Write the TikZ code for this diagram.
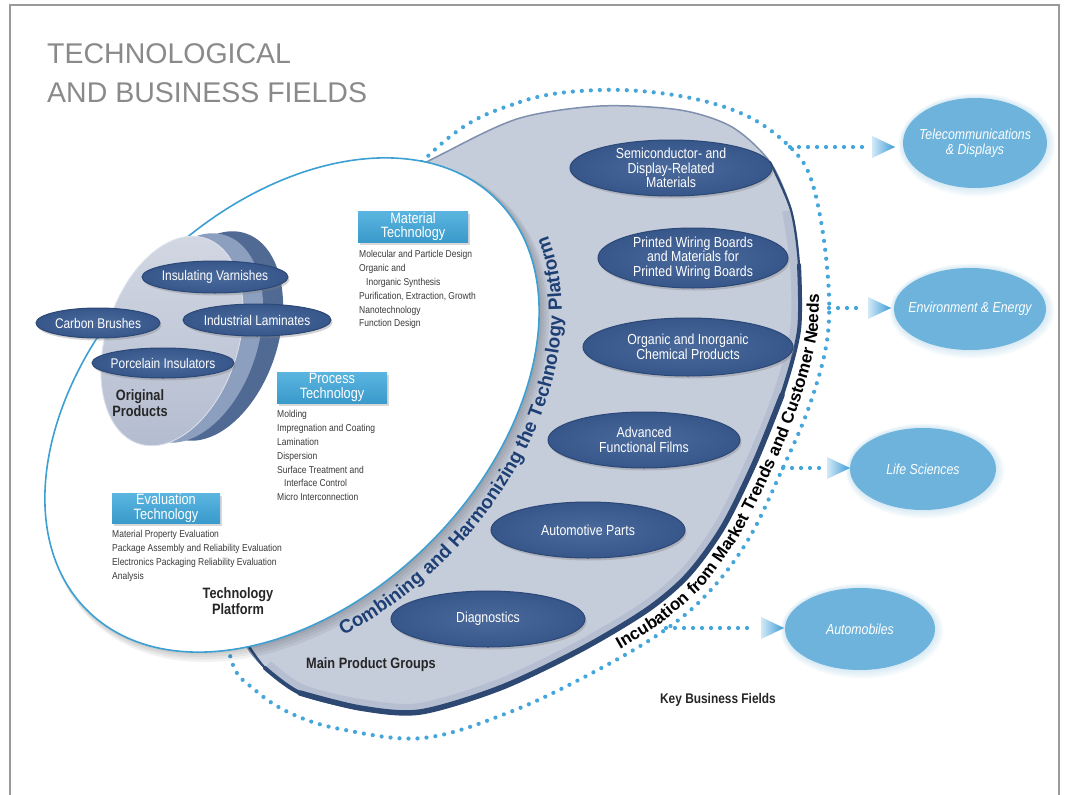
\documentclass[tikz,border=0pt]{standalone}
\usepackage{fontspec}
\setmainfont{Liberation Sans}
\newfontfamily\cf[FakeStretch=0.85]{Liberation Sans}
\usetikzlibrary{shapes.geometric,decorations.text,shadows}

\definecolor{framegray}{HTML}{9A9A9A}
\definecolor{titlegray}{HTML}{8A8A8A}
\definecolor{dotblue}{HTML}{45A6DC}
\definecolor{crescent}{HTML}{C5CCDA}
\definecolor{crescentdark}{HTML}{A9B4C9}
\definecolor{rimnavy}{HTML}{2D4873}
\definecolor{rimlight}{HTML}{7F90AE}
\definecolor{platline}{HTML}{3CA0D3}
\definecolor{prodblue}{HTML}{37568A}
\definecolor{prodlight}{HTML}{4A6A9C}
\definecolor{prodedge}{HTML}{2B4877}
\definecolor{boxtop}{HTML}{5BB5E0}
\definecolor{boxbot}{HTML}{3A9ACB}
\definecolor{keyblue}{HTML}{6DB3DC}
\definecolor{listgray}{HTML}{3A3A3A}
\definecolor{combnavy}{HTML}{1E3F73}
\definecolor{discfronttop}{HTML}{D3D8E3}
\definecolor{discfrontbot}{HTML}{B4BDD0}
\definecolor{discmid}{HTML}{8D9FBE}
\definecolor{discback}{HTML}{506A93}
\definecolor{tiplight}{HTML}{D2E9F7}
\definecolor{tipdark}{HTML}{3D9BD7}

\newcommand\combfont{\fontsize{19}{19}\selectfont\bfseries}
\newcommand\incfont{\fontsize{17}{17}\selectfont\bfseries}

% outline of the main product groups region
\newcommand\groupoutline{(450,-150) (520,-118) (600,-106) (680,-110) (732,-127) (770,-162)
  (791,-210) (799,-265) (799,-330) (782,-395) (755,-462) (723,-527) (688,-575) (647,-610)
  (580,-650) (500,-688) (420,-712) (360,-708) (300,-693) (265,-668) (243,-637) (230,-560)
  (260,-400) (330,-250) (390,-185)}

\tikzset{
  dots/.style={draw=dotblue, line width=4.2pt, line cap=round, dash pattern=on 0pt off 9pt},
  prodshape/.style={ellipse, inner sep=0, draw=prodedge, line width=1pt,
    inner color=prodlight, outer color=prodblue,
    drop shadow={opacity=0.35, shadow xshift=1.5pt, shadow yshift=-2.5pt}},
  prodtext/.style={text=white, align=center, inner sep=0, font=\cf\fontsize{14.5}{14.5}\selectfont},
  origtext/.style={text=white, align=center, inner sep=0, font=\cf\fontsize{14}{14}\selectfont},
  keyshape/.style={ellipse, inner sep=0, fill=keyblue},
  keytext/.style={text=white, align=center, inner sep=0, font=\cf\itshape\fontsize{14.5}{15}\selectfont},
  techbox/.style={rectangle, inner sep=0, top color=boxtop, bottom color=boxbot, text=white,
    align=center, font=\cf\fontsize{15}{14.5}\selectfont,
    drop shadow={opacity=0.3, shadow xshift=2pt, shadow yshift=-2.5pt}},
  techlist/.style={anchor=north west, inner sep=0, align=left, text=listgray,
    font=\cf\fontsize{10}{13.8}\selectfont},
  boldlabel/.style={inner sep=0, align=center, text=black!85, font=\cf\bfseries\fontsize{15}{16.5}\selectfont},
  tipnode/.style={isosceles triangle, isosceles triangle apex angle=75, isosceles triangle stretches,
    minimum width=22pt, minimum height=23pt, inner sep=0, left color=tiplight, right color=tipdark},
  titletext/.style={anchor=base west, inner sep=0, text=titlegray, font=\fontsize{28.5}{28.5}\selectfont},
}

\begin{document}
\begin{tikzpicture}[x=1pt,y=1pt,
  declare function={ex(\ctr,\rx,\ry,\ang)=\ctr+0.7071*(\rx*cos(\ang)-\ry*sin(\ang));
                    ey(\ctr,\rx,\ry,\ang)=\ctr+0.7071*(\rx*cos(\ang)+\ry*sin(\ang));}]

\useasboundingbox (0,0) rectangle (1066,-795);
\fill[white] (0,0) rectangle (1066,-795);

% frame, open at the bottom
\draw[framegray, line width=2.6pt] (10,-795) -- (10,-5) -- (1059,-5) -- (1059,-795);

% heading
\node[titletext] (title1) at (47,-63) {TECHNOLOGICAL};
\node[titletext] (title2) at (47,-102) {AND BUSINESS FIELDS};

% dotted incubation ring (its left part runs behind the platform)
\draw[dots] plot[smooth cycle, tension=0.6] coordinates {
  (440,-145) (520,-102) (600,-90) (680,-96) (745,-115) (790,-147) (812,-182)
  (826,-257) (828,-333) (810,-404) (781,-472) (748,-540) (708,-593) (662,-632)
  (592,-673) (510,-712) (423,-738) (340,-729) (290,-713) (255,-690) (232,-662)
  (225,-590) (260,-420) (330,-270)};

% main product groups region
\fill[crescent] plot[smooth cycle] coordinates {\groupoutline};
\begin{scope}
  \clip plot[smooth cycle] coordinates {\groupoutline};
  \draw[crescentdark, line width=18pt, opacity=0.5] plot[smooth] coordinates {
    (265,-668) (300,-693) (360,-708) (420,-712) (500,-688) (580,-650) (647,-610) (688,-575)
    (723,-527) (755,-462) (782,-395) (799,-330) (799,-265) (791,-210)};
\end{scope}
\draw[rimlight, line width=1.5pt] plot[smooth cycle] coordinates {\groupoutline};
\draw[rimnavy, line width=2.2pt, line cap=round] plot[smooth] coordinates {
  (243,-637) (265,-668) (300,-693) (360,-708) (420,-712) (500,-688) (580,-650) (647,-610)
  (688,-575) (723,-527) (755,-462) (782,-395) (799,-330) (799,-265) (791,-210) (770,-162)};
\draw[rimnavy, line width=4pt, line cap=round] plot[smooth] coordinates {
  (265,-668) (300,-693) (360,-708) (420,-712) (500,-688) (580,-650) (647,-610) (688,-575)
  (723,-527) (755,-462) (782,-395) (799,-330) (799,-265)};
\draw[rimnavy, line width=5.5pt, line cap=round] plot[smooth] coordinates {
  (300,-693) (360,-708) (420,-712) (500,-688) (580,-650) (647,-610) (688,-575)
  (723,-527) (755,-462) (782,-395)};

% incubation caption just outside the rim
\path[decorate, decoration={text along path, text color=black, text align=center,
    text={|\incfont|Incubation from Market Trends and Customer Needs}}]
  (589,-667) -- (624,-647) -- (658,-626) -- (681,-607) -- (702,-588) -- (721,-563)
  -- (739,-537) -- (756,-504) -- (772,-470) -- (787,-436) -- (800,-401) -- (810,-367)
  -- (818,-332) -- (819,-295) -- (817,-258);

% technology platform: soft shadow, white body, blue outline
\foreach \k in {1,...,4}
  \fill[black, opacity=0.05, rotate around={45:(292+1.5*\k,-405-1.5*\k)}]
    (292+1.5*\k,-405-1.5*\k) ellipse[x radius=290+\k, y radius=195+\k];
\fill[white, rotate around={45:(292,-405)}] (292,-405) ellipse[x radius=290, y radius=195];
\draw[platline, line width=1.6pt, rotate around={45:(292,-405)}] (292,-405) ellipse[x radius=290, y radius=195];

% combining caption along the platform edge
\path[decorate, decoration={text along path, text color=combnavy, text align=center,
    text={|\combfont|Combining and Harmonizing the Technology Platform}}]
  plot[smooth, domain=240:352, samples=60] ({ex(292,313,218,\x)},{ey(-405,313,218,\x)});

% original products: stacked discs
\fill[discback, rotate around={-18:(212,-336)}] (212,-336) ellipse[x radius=66, y radius=108];
\fill[discmid, rotate around={-18:(192,-338)}] (192,-338) ellipse[x radius=66, y radius=108];
\shade[top color=discfronttop, bottom color=discfrontbot, rotate around={-18:(172,-341)}]
  (172,-341) ellipse[x radius=66, y radius=108];
\draw[white!70!discmid, line width=0.8pt, rotate around={-18:(172,-341)}]
  (172,-341) ellipse[x radius=66, y radius=108];

\foreach \n/\cx/\cy/\w/\h/\txt in {
    o1/215/-277/146/32/{Insulating Varnishes},
    o2/98/-323/124/30/{Carbon Brushes},
    o3/257/-320/148/32/{Industrial Laminates},
    o4/163/-363/142/30/{Porcelain Insulators}} {
  \node[prodshape, minimum width=\w, minimum height=\h] (\n) at (\cx,\cy) {};
  \node[origtext] (\n-t) at (\n) {\txt};
}
\node[boldlabel] (origlabel) at (140,-403) {Original\\Products};

% technology boxes and lists
\node[techbox, minimum width=110, minimum height=31] (matbox) at (413,-226.5) {Material\\Technology};
\node[techlist] (matlist) at (359,-250.5) {Molecular and Particle Design\\Organic and\\\hspace*{0.7em}Inorganic Synthesis\\Purification, Extraction, Growth\\Nanotechnology\\Function Design};

\node[techbox, minimum width=110, minimum height=31] (probox) at (332,-387.5) {Process\\Technology};
\node[techlist] (prolist) at (277,-410.5) {Molding\\Impregnation and Coating\\Lamination\\Dispersion\\Surface Treatment and\\\hspace*{0.7em}Interface Control\\Micro Interconnection};

\node[techbox, minimum width=108, minimum height=30] (evabox) at (166,-508) {Evaluation\\Technology};
\node[techlist] (evalist) at (112,-530.5) {Material Property Evaluation\\Package Assembly and Reliability Evaluation\\Electronics Packaging Reliability Evaluation\\Analysis};

\node[boldlabel] (platlabel) at (238,-601) {Technology\\Platform};

% main product groups
\foreach \n/\cx/\cy/\w/\h/\txt in {
    p1/671/-168/202/56/{Semiconductor- and\\Display-Related\\Materials},
    p2/693/-258/190/60/{Printed Wiring Boards\\and Materials for\\Printed Wiring Boards},
    p3/688/-347/210/58/{Organic and Inorganic\\Chemical Products},
    p4/644/-440/192/56/{Advanced\\Functional Films},
    p5/588/-530/194/56/{Automotive Parts},
    p6/488/-619/194/56/{Diagnostics}} {
  \node[prodshape, minimum width=\w, minimum height=\h] (\n) at (\cx,\cy) {};
  \node[prodtext] (\n-t) at (\n) {\txt};
}
\node[boldlabel] (mainlabel) at (371,-665) {Main Product Groups};

% key business fields with a soft halo
\foreach \n/\cx/\cy/\w/\h/\txt in {
    k1/975/-143/144/90/{Telecommunications\\\& Displays},
    k2/970/-309/152/82/{Environment \& Energy},
    k3/923/-469/146/82/{Life Sciences},
    k4/860/-629/150/82/{Automobiles}} {
  \foreach \g in {1,...,5}
    \fill[keyblue, opacity=0.05] (\cx+0.4*\g,\cy-0.4*\g) ellipse[x radius=\w/2+1.3*\g, y radius=\h/2+1.3*\g];
  \node[keyshape, minimum width=\w, minimum height=\h] (\n) at (\cx,\cy) {};
  \node[keytext] (\n-t) at (\n) {\txt};
}
\node[boldlabel, font=\cf\bfseries\fontsize{14}{14}\selectfont] (keylabel) at (718,-700) {Key Business Fields};

% branches from the ring to the fields
\coordinate (d1) at (790,-147);
\coordinate (d2) at (829,-308);
\coordinate (d3) at (783,-468);
\coordinate (d4) at (666,-628);
\node[tipnode] (a1) at (879,-147) {};
\node[tipnode] (a2) at (875,-308) {};
\node[tipnode] (a3) at (834,-468) {};
\node[tipnode] (a4) at (768,-628) {};
\draw[dots, shorten >=6pt] (d1) -- (a1.west);
\draw[dots, shorten >=6pt] (d2) -- (a2.west);
\draw[dots, shorten >=6pt] (d3) -- (a3.west);
\draw[dots, shorten >=6pt] (d4) -- (a4.west);

\end{tikzpicture}
\end{document}
